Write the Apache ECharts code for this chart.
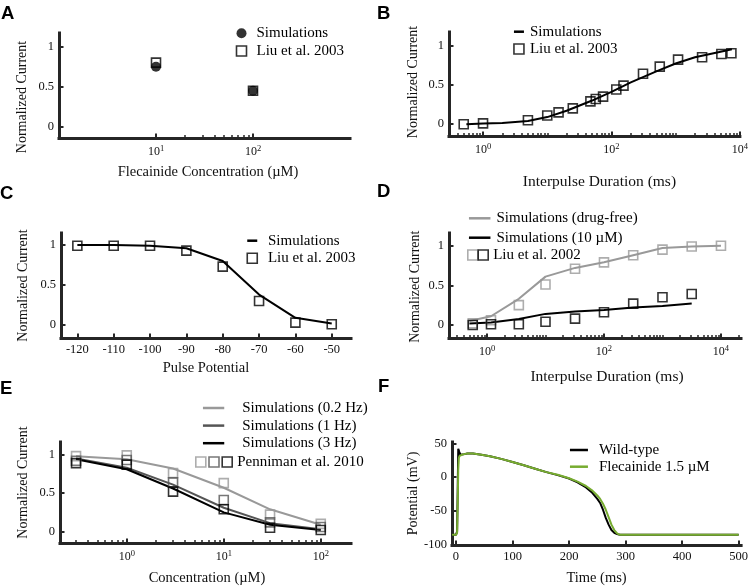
<!DOCTYPE html>
<html><head><meta charset="utf-8">
<script src="https://cdn.jsdelivr.net/npm/echarts@6/dist/echarts.min.js"></script>
<style>html,body{margin:0;padding:0;background:#fff}#c{width:751px;height:587px}</style>
</head><body><div id="c"></div>
<script>
// ---------------- data ----------------
// A
const concA = [10, 100];
const simA = [0.75, 0.45];
const liuA = [0.80, 0.45];
// B
const ipdB = [0.5, 1, 5, 10, 15, 25, 47, 57, 74, 119, 154, 310, 565, 1090, 2580, 5150, 7380];
const liuB = [0.0, 0.01, 0.05, 0.11, 0.15, 0.20, 0.29, 0.32, 0.35, 0.44, 0.49, 0.64, 0.73, 0.82, 0.85, 0.89, 0.90];
const simBx = [0.55, 1, 2, 5, 10, 20, 50, 100, 200, 500, 1000, 2000, 5000, 7500];
const simB = [0.0, 0.01, 0.015, 0.04, 0.09, 0.17, 0.30, 0.41, 0.53, 0.67, 0.77, 0.85, 0.92, 0.95];
// C
const potC = [-120, -110, -100, -90, -80, -70, -60, -50];
const liuC = [0.99, 0.99, 0.99, 0.93, 0.73, 0.30, 0.03, 0.01];
const simC = [1.0, 1.0, 0.99, 0.96, 0.80, 0.38, 0.09, 0.02];
// D
const ipdD = [0.57, 1.17, 3.5, 10, 32, 100, 316, 1000, 3160, 10000];
const liuDfree = [0.02, 0.06, 0.25, 0.51, 0.71, 0.79, 0.88, 0.95, 0.99, 1.0];
const liuD10 = [0.0, 0.01, 0.01, 0.04, 0.08, 0.16, 0.27, 0.35, 0.39];
const simDx = [0.5, 1.17, 3.5, 10, 32, 100, 316, 1000, 3160, 10000];
const simDfree = [0.05, 0.11, 0.33, 0.61, 0.72, 0.79, 0.88, 0.97, 0.99, 1.0];
const simD10 = [0.02, 0.03, 0.076, 0.14, 0.17, 0.19, 0.22, 0.24, 0.27];
// E
const concE = [0.3, 1, 3, 10, 30, 100];
const simE02 = [0.98, 0.94, 0.82, 0.57, 0.29, 0.09];
const simE1 = [0.95, 0.83, 0.61, 0.31, 0.11, 0.03];
const simE3 = [0.94, 0.81, 0.56, 0.25, 0.09, 0.02];
const penE02 = [0.98, 0.99, 0.76, 0.63, 0.22, 0.10];
const penE1 = [0.92, 0.93, 0.64, 0.41, 0.12, 0.06];
const penE3 = [0.89, 0.87, 0.52, 0.29, 0.05, 0.02];
// F
const timeF = [-7, 0, 1, 2, 3, 4, 5, 6, 8, 10, 15, 20, 30, 45, 60, 80, 100, 120, 140, 160, 180, 200, 215, 230, 240, 250, 255, 260, 265, 270, 275, 280, 285, 290, 300, 350, 400, 450, 500];
const apWT = [-85, -85, -85, -80, -20, 42, 40, 37, 33, 32, 34, 35, 35, 33, 31, 27, 22.5, 17.5, 12.5, 7.5, 3, -2, -7.5, -15, -22, -32, -38, -48, -60, -70, -78, -82, -84, -85, -85, -85, -85, -85, -85];
const apFl = [-85, -85, -85, -82, -40, 10, 28, 31, 32, 33, 34, 35, 35, 33, 31, 27, 22.5, 17.5, 12.5, 7.5, 3.5, -1.5, -6.5, -13, -19, -27, -32, -39, -48, -59, -70, -78, -83, -85, -85, -85, -85, -85, -85];

// tick labels
const normTicks = [0, 0.5, 1];
const potTicks = [-120, -110, -100, -90, -80, -70, -60, -50];
const timeTicks = [0, 100, 200, 300, 400, 500];
const vTicks = [-100, -50, 0, 50];
const logLabelsA = [10, 100];
const logLabelsB = [1, 100, 10000];
const logLabelsD = [1, 100, 10000];
const logLabelsE = [1, 10, 100];

// legend texts
const legA = ['Simulations', 'Liu et al. 2003'];
const legB = ['Simulations', 'Liu et al. 2003'];
const legC = ['Simulations', 'Liu et al. 2003'];
const legD = ['Simulations (drug-free)', 'Simulations (10 µM)', 'Liu et al. 2002'];
const legE = ['Simulations (0.2 Hz)', 'Simulations (1 Hz)', 'Simulations (3 Hz)', 'Penniman et al. 2010'];
const legF = ['Wild-type', 'Flecainide 1.5 µM'];

// ---------------- helpers ----------------
const FONT = 'Liberation Serif';
const AX = '#262626';
const TXT = '#111';
const GREY = '#999999';
const MID = '#555555';
const GREEN = '#77ac30';

function zip(xs, ys) { return ys.map((y, i) => [xs[i], y]); }
function minorTicks(lo, hi, majors) {
  const out = [];
  for (let e = Math.floor(Math.log10(lo)) - 1; e <= Math.ceil(Math.log10(hi)); e++) {
    for (let m = 1; m <= 9; m++) {
      const v = +(m * Math.pow(10, e)).toPrecision(6);
      if (v >= lo * 0.9999 && v <= hi * 1.0001 && majors.indexOf(v) < 0) out.push(v);
    }
  }
  return out;
}

const grids = [], xAxes = [], yAxes = [], series = [], legends = [];

function panel(o) {
  const gi = grids.length;
  grids.push({ left: o.left, top: o.top, width: o.width, height: o.height });
  const yi = yAxes.length;
  yAxes.push({
    gridIndex: gi, type: 'value', min: o.ymin, max: o.ymax,
    name: o.yname, nameLocation: 'middle', nameGap: o.yGap,
    nameTextStyle: { fontFamily: FONT, fontSize: 14, color: TXT, padding: o.yPad || 0 },
    axisLine: { show: true, onZero: false, lineStyle: { color: AX, width: 3, cap: 'square' } },
    axisTick: { show: true, inside: true, length: 4.5, customValues: o.yTicks, lineStyle: { color: AX, width: 2 } },
    axisLabel: { show: true, customValues: o.yTicks, margin: 5, fontFamily: FONT, fontSize: 12.5, color: TXT },
    splitLine: { show: false }
  });
  const xi = xAxes.length;
  const isLog = o.xtype === 'log';
  const xa = {
    gridIndex: gi, type: o.xtype, min: o.xmin, max: o.xmax, position: 'bottom',
    name: o.xname, nameLocation: 'middle', nameGap: o.xGap,
    nameTextStyle: { fontFamily: FONT, fontSize: o.xNameSize || 14.5, color: TXT, padding: o.xPad || 0 },
    axisLine: { show: true, onZero: false, lineStyle: { color: AX, width: 3, cap: 'square' } },
    axisTick: { show: true, inside: true, length: 4.5, customValues: o.xMajor, lineStyle: { color: AX, width: 2 } },
    splitLine: { show: false }
  };
  if (isLog) {
    xa.logBase = 10;
    xa.axisLabel = {
      show: true, customValues: o.xLabels, margin: 6,
      formatter: v => '{b|10}{s|' + Math.round(Math.log10(v)) + '}',
      rich: {
        b: { fontFamily: FONT, fontSize: 12, color: TXT, lineHeight: 16 },
        s: { fontFamily: FONT, fontSize: 8.5, color: TXT, verticalAlign: 'top' }
      }
    };
  } else {
    xa.axisLabel = { show: true, customValues: o.xLabels, margin: 5, fontFamily: FONT, fontSize: 12.5, color: TXT };
  }
  xAxes.push(xa);
  if (o.xMinor) {
    xAxes.push({
      gridIndex: gi, type: 'log', logBase: 10, min: o.xmin, max: o.xmax, position: 'bottom',
      axisLine: { show: false, onZero: false },
      axisLabel: { show: false },
      axisTick: { show: true, inside: true, length: 3, customValues: o.xMinor, lineStyle: { color: AX, width: 1.5 } },
      splitLine: { show: false }
    });
  }
  return { xi, yi };
}

function lineS(name, xs, ys, color, ax, w) {
  return { type: 'line', name, xAxisIndex: ax.xi, yAxisIndex: ax.yi, data: zip(xs, ys),
    symbol: 'none', lineStyle: { color, width: w || 2 }, itemStyle: { color }, z: 2, silent: true };
}
function squareS(name, xs, ys, color, ax) {
  return { type: 'scatter', name, xAxisIndex: ax.xi, yAxisIndex: ax.yi, data: zip(xs, ys),
    symbol: 'rect', symbolSize: 9,
    itemStyle: { color: 'rgba(255,255,255,0)', borderColor: color, borderWidth: 1.6 }, z: 3, silent: true };
}
function circleS(name, xs, ys, color, ax) {
  return { type: 'scatter', name, xAxisIndex: ax.xi, yAxisIndex: ax.yi, data: zip(xs, ys),
    symbol: 'circle', symbolSize: 10, itemStyle: { color }, z: 4, silent: true };
}
const fmt = n => n.split('|')[1];
// legend entry for a line series: line only, no marker
const lineItem = n => ({ name: n, itemStyle: { opacity: 0, color: 'rgba(0,0,0,0)', borderWidth: 0 } });
function legend(o) {
  return {
    orient: o.orient || 'vertical', left: o.left, top: o.top, padding: 0,
    itemWidth: o.w, itemHeight: 10, itemGap: o.gap, selectedMode: false,
    data: o.data, formatter: fmt,
    itemStyle: { borderWidth: 1.6 },
    lineStyle: { width: 2.5 },
    textStyle: { fontFamily: FONT, fontSize: 15, lineHeight: 16, color: '#000', padding: [0, 0, 0, o.pad || 0] }
  };
}

// ---------------- panels ----------------
// A
const axA = panel({ left: 59, top: 33, width: 291, height: 105, ymin: -0.14, ymax: 1.17, yTicks: normTicks,
  yname: 'Normalized Current', yGap: 30, yPad: [0, 23, 0, 0],
  xtype: 'log', xmin: 1, xmax: 1000, xMajor: logLabelsA, xLabels: logLabelsA,
  xMinor: minorTicks(20, 90, logLabelsA),
  xname: 'Flecainide Concentration (µM)', xGap: 27, xPad: [0, 0, 0, 7] });
series.push(squareS('A|' + legA[1], concA, liuA, '#000', axA));
series.push(circleS('A|' + legA[0], concA, simA, '#000', axA));
legends.push(legend({ left: 235.7, top: 25.3, w: 10, gap: 1.7, pad: 5, data: ['A|' + legA[0], 'A|' + legA[1]] }));

// B
const axB = panel({ left: 449, top: 32, width: 291, height: 104, ymin: -0.15, ymax: 1.17, yTicks: normTicks,
  yname: 'Normalized Current', yGap: 29, yPad: [0, 0, 0, 4],
  xtype: 'log', xmin: 0.295, xmax: 10000, xMajor: logLabelsB, xLabels: logLabelsB,
  xMinor: minorTicks(0.3, 10000, logLabelsB),
  xname: 'Interpulse Duration (ms)', xNameSize: 15.5, xGap: 38, xPad: [0, 0, 0, 10] });
series.push(lineS('B|' + legB[0], simBx, simB, '#000', axB));
series.push(squareS('B|' + legB[1], ipdB, liuB, '#000', axB));
legends.push(legend({ left: 512.7, top: 23.7, w: 10, gap: 1.3, pad: 1, data: [lineItem('B|' + legB[0]), 'B|' + legB[1]] }));

// C
const axC = panel({ left: 61, top: 233, width: 290, height: 105, ymin: -0.1625, ymax: 1.15, yTicks: normTicks,
  yname: 'Normalized Current', yGap: 31,
  xtype: 'value', xmin: -124.5, xmax: -44.7, xMajor: potTicks, xLabels: potTicks,
  xname: 'Pulse Potential', xGap: 23 });
series.push(lineS('C|' + legC[0], potC, simC, '#000', axC));
series.push(squareS('C|' + legC[1], potC, liuC, '#000', axC));
legends.push(legend({ left: 246, top: 232.7, w: 10, gap: 1.6, pad: 5.7, data: [lineItem('C|' + legC[0]), 'C|' + legC[1]] }));

// D
const axD = panel({ left: 449, top: 233, width: 292, height: 105, ymin: -0.164, ymax: 1.16, yTicks: normTicks,
  yname: 'Normalized Current', yGap: 27, yPad: [0, 2.4, 0, 0],
  xtype: 'log', xmin: 0.224, xmax: 22000, xMajor: logLabelsD, xLabels: logLabelsD,
  xMinor: minorTicks(0.3, 20000, logLabelsD),
  xname: 'Interpulse Duration (ms)', xNameSize: 15.5, xGap: 30.5, xPad: [0, 0, 0, 24] });
series.push(lineS('D|' + legD[0], simDx, simDfree, GREY, axD));
series.push(lineS('D|' + legD[1], simDx.slice(0, simD10.length), simD10, '#000', axD));
series.push(squareS('D#g|', ipdD, liuDfree, GREY, axD));
series.push(squareS('D|' + legD[2], ipdD.slice(0, liuD10.length), liuD10, '#000', axD));
legends.push(legend({ left: 467.7, top: 210.3, w: 21.5, gap: 3.4, pad: 1, data: [lineItem('D|' + legD[0]), lineItem('D|' + legD[1])] }));
legends.push(legend({ orient: 'horizontal', left: 467, top: 247, w: 10, gap: -5.4, pad: 0, data: ['D#g|', 'D|' + legD[2]] }));

// E
const axE = panel({ left: 60, top: 442, width: 291, height: 104, ymin: -0.148, ymax: 1.164, yTicks: normTicks,
  yname: 'Normalized Current', yGap: 29.5, yPad: [0, 0, 0, 20],
  xtype: 'log', xmin: 0.205, xmax: 205, xMajor: logLabelsE, xLabels: logLabelsE,
  xMinor: minorTicks(0.3, 100, logLabelsE),
  xname: 'Concentration (µM)', xGap: 28, xPad: [0, 0, 0, 3] });
series.push(lineS('E|' + legE[0], concE, simE02, GREY, axE));
series.push(lineS('E|' + legE[1], concE, simE1, MID, axE));
series.push(lineS('E|' + legE[2], concE, simE3, '#000', axE));
series.push(squareS('E#a|', concE, penE02, GREY, axE));
series.push(squareS('E#b|', concE, penE1, MID, axE));
series.push(squareS('E|' + legE[3], concE, penE3, '#000', axE));
legends.push(legend({ left: 201.7, top: 400, w: 21.3, gap: 1.6, pad: 13, data: [lineItem('E|' + legE[0]), lineItem('E|' + legE[1]), lineItem('E|' + legE[2])] }));
legends.push(legend({ orient: 'horizontal', left: 195, top: 454, w: 10, gap: -2.6, pad: 0, data: ['E#a|', 'E#b|', 'E|' + legE[3]] }));

// F
const axF = panel({ left: 452, top: 442, width: 290, height: 103, ymin: -100, ymax: 51.9, yTicks: vTicks,
  yname: 'Potential (mV)', yGap: 31,
  xtype: 'value', xmin: -7.05, xmax: 504.4, xMajor: timeTicks, xLabels: timeTicks,
  xname: 'Time (ms)', xGap: 25.5 });
series.push(lineS('F|' + legF[0], timeF, apWT, '#000', axF));
series.push(lineS('F|' + legF[1], timeF, apFl, GREEN, axF));
legends.push(legend({ left: 568.7, top: 442, w: 18, gap: 0.7, pad: 6, data: [lineItem('F|' + legF[0]), lineItem('F|' + legF[1])] }));

// panel letters
const letters = [['A', 1, 4], ['B', 377, 4], ['C', 0, 184], ['D', 377, 182.5], ['E', 0, 379], ['F', 378, 377.5]];
const graphic = letters.map(l => ({ type: 'text', left: l[1], top: l[2],
  style: { text: l[0], font: 'bold 18.5px "Liberation Sans"', fill: '#000' } }));

const chart = echarts.init(document.getElementById('c'), null, { renderer: 'canvas' });
chart.setOption({
  animation: false,
  backgroundColor: '#fff',
  grid: grids, xAxis: xAxes, yAxis: yAxes, series, legend: legends, graphic
});
</script></body></html>
